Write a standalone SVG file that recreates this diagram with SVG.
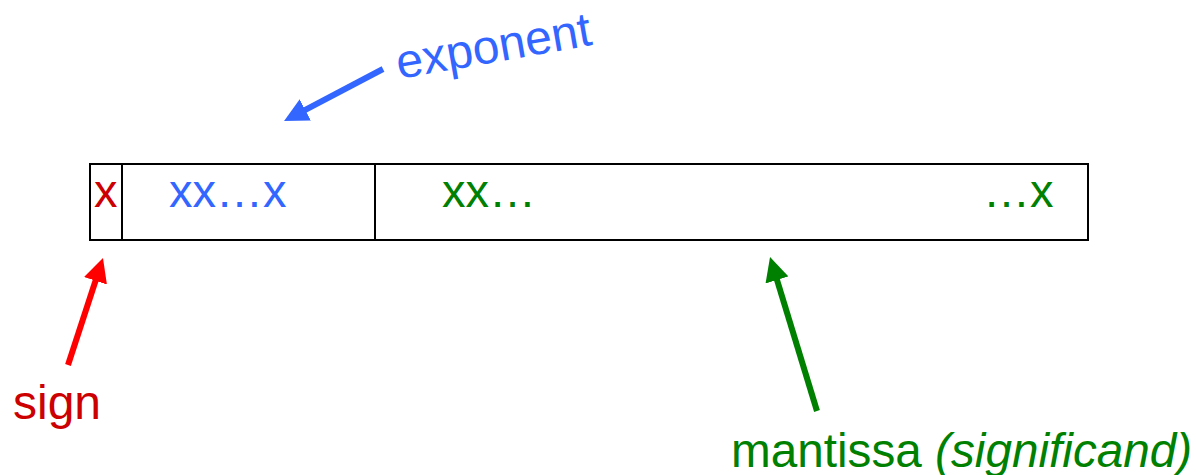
<svg xmlns="http://www.w3.org/2000/svg" width="1196" height="475" viewBox="0 0 1196 475">
<style>
text{font-family:"Liberation Sans",Arial,sans-serif;font-size:47px}
.box{fill:#fff;stroke:#000;stroke-width:2}
.div{stroke:#000;stroke-width:2}
.red{fill:#cc0000}
.blue{fill:#3366ff}
.green{fill:#008000}
.conn{stroke-width:6;fill:none}
</style>
<defs>
<marker id="ahR" markerUnits="userSpaceOnUse" markerWidth="24" markerHeight="24" refX="8" refY="12" orient="auto"><path d="M0,0 L24,12 L0,24 z" fill="#ff0000"/></marker>
<marker id="ahB" markerUnits="userSpaceOnUse" markerWidth="24" markerHeight="24" refX="8" refY="12" orient="auto"><path d="M0,0 L24,12 L0,24 z" fill="#3366ff"/></marker>
<marker id="ahG" markerUnits="userSpaceOnUse" markerWidth="24" markerHeight="24" refX="8" refY="12" orient="auto"><path d="M0,0 L24,12 L0,24 z" fill="#008000"/></marker>
</defs>
<rect width="1196" height="475" fill="#fff"/>
<g id="register">
<rect class="box" x="90" y="164" width="998" height="76"/>
<line class="div" x1="122" y1="164" x2="122" y2="240"/>
<line class="div" x1="375" y1="164" x2="375" y2="240"/>
</g>
<g id="sign-field"><text class="red" x="94" y="207">x</text></g>
<g id="exponent-field"><text class="blue" x="169" y="207">xx…x</text></g>
<g id="mantissa-field"><text class="green" x="442" y="207">xx…</text><text class="green" x="983" y="207">…x</text></g>
<g id="exponent-label"><text class="blue" x="399" y="79" transform="rotate(-10 399 79)" style="font-size:48px">exponent</text></g>
<g id="sign-label"><text class="red" x="13" y="419" style="font-size:48px">sign</text></g>
<g id="mantissa-label"><text class="green" x="731" y="467" style="font-size:47.7px">mantissa <tspan font-style="italic">(significand)</tspan></text></g>
<g id="connectors">
<line class="conn" stroke="#3366ff" x1="383" y1="69" x2="298.2" y2="113.6" marker-end="url(#ahB)"/>
<line class="conn" stroke="#ff0000" x1="68" y1="365" x2="98" y2="273.2" marker-end="url(#ahR)"/>
<line class="conn" stroke="#008000" x1="817" y1="411" x2="774.7" y2="272.3" marker-end="url(#ahG)"/>
</g>
</svg>
